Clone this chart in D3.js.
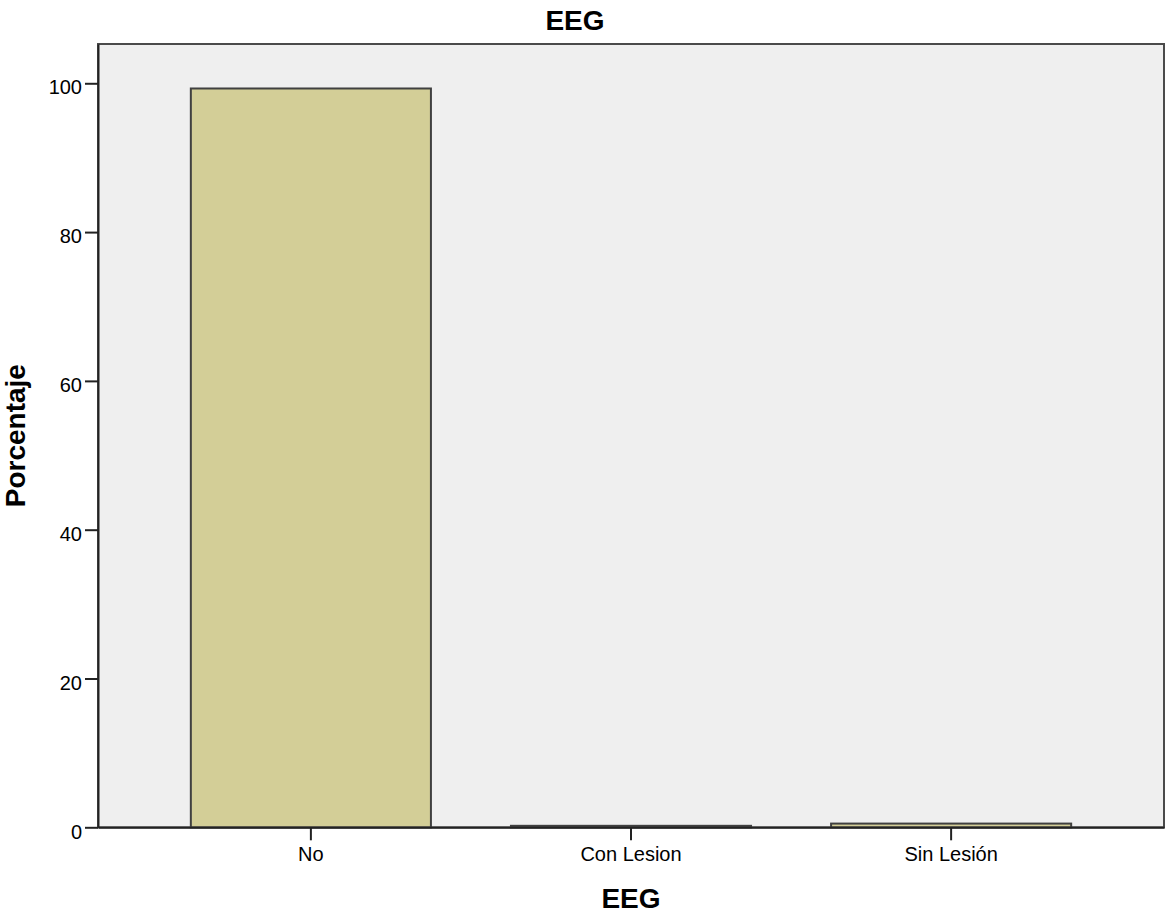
<!DOCTYPE html>
<html>
<head>
<meta charset="utf-8">
<script src="https://cdn.jsdelivr.net/npm/d3@7/dist/d3.min.js"></script>
<style>
  html, body { margin: 0; padding: 0; background: #ffffff; }
  svg text { font-family: "Liberation Sans", Arial, sans-serif; fill: #000; }
</style>
</head>
<body>
<svg id="chart" width="1167" height="915"></svg>
<script>
const categories = ["No", "Con Lesion", "Sin Lesión"];
const percentValues = [99.3, 0.2, 0.5];
const yTickValues = [0, 20, 40, 60, 80, 100];
const chartTitle = "EEG";
const xAxisTitle = "EEG";
const yAxisTitle = "Porcentaje";

const svg = d3.select("#chart");
const plot = { left: 98, right: 1164, top: 44, bottom: 827.3 };

const x = d3.scaleBand()
  .domain(categories)
  .range([plot.left, plot.right])
  .paddingInner(0.25)
  .paddingOuter(0.29);

const y = d3.scaleLinear()
  .domain([0, 105.28])
  .range([plot.bottom, plot.top]);

// plot background + frame
svg.append("rect")
  .attr("x", plot.left).attr("y", plot.top)
  .attr("width", plot.right - plot.left)
  .attr("height", plot.bottom - plot.top)
  .attr("fill", "#efefef")
  .attr("stroke", "#4a4a4a")
  .attr("stroke-width", 2);

// bars
svg.append("g").selectAll("rect")
  .data(categories.map((c, i) => ({ c, v: percentValues[i] })))
  .join("rect")
  .attr("x", d => x(d.c))
  .attr("y", d => y(d.v))
  .attr("width", x.bandwidth())
  .attr("height", d => y(0) - y(d.v))
  .attr("fill", "#d3ce97")
  .attr("stroke", "#404040")
  .attr("stroke-width", 2);

// y axis
const yAxis = d3.axisLeft(y).tickValues(yTickValues).tickSize(13).tickPadding(3).tickSizeOuter(0);
const gy = svg.append("g").attr("transform", `translate(${plot.left},0)`).call(yAxis);
gy.select(".domain").attr("stroke", "#222").attr("stroke-width", 2);
gy.selectAll(".tick line").attr("stroke", "#222").attr("stroke-width", 2);
gy.selectAll(".tick text")
  .attr("font-size", 20)
  .attr("font-family", "Liberation Sans, Arial, sans-serif")
  .attr("dy", "10.7")
  .attr("fill", "#111");

// x axis
const xAxis = d3.axisBottom(x).tickSize(13).tickPadding(7).tickSizeOuter(0);
const gx = svg.append("g").attr("transform", `translate(0,${plot.bottom})`).call(xAxis);
gx.select(".domain").attr("stroke", "#222").attr("stroke-width", 2);
gx.selectAll(".tick line").attr("stroke", "#222").attr("stroke-width", 2);
gx.selectAll(".tick text")
  .attr("font-size", 20)
  .attr("font-family", "Liberation Sans, Arial, sans-serif")
  .attr("fill", "#111");

// titles
svg.append("text")
  .attr("x", 575).attr("y", 30)
  .attr("text-anchor", "middle")
  .attr("font-size", 28).attr("font-weight", "bold")
  .text(chartTitle);

svg.append("text")
  .attr("x", (plot.left + plot.right) / 2).attr("y", 908)
  .attr("text-anchor", "middle")
  .attr("font-size", 28).attr("font-weight", "bold")
  .text(xAxisTitle);

svg.append("text")
  .attr("transform", `translate(25,${(plot.top + plot.bottom) / 2}) rotate(-90)`)
  .attr("text-anchor", "middle")
  .attr("font-size", 28).attr("font-weight", "bold")
  .text(yAxisTitle);
</script>
</body>
</html>
